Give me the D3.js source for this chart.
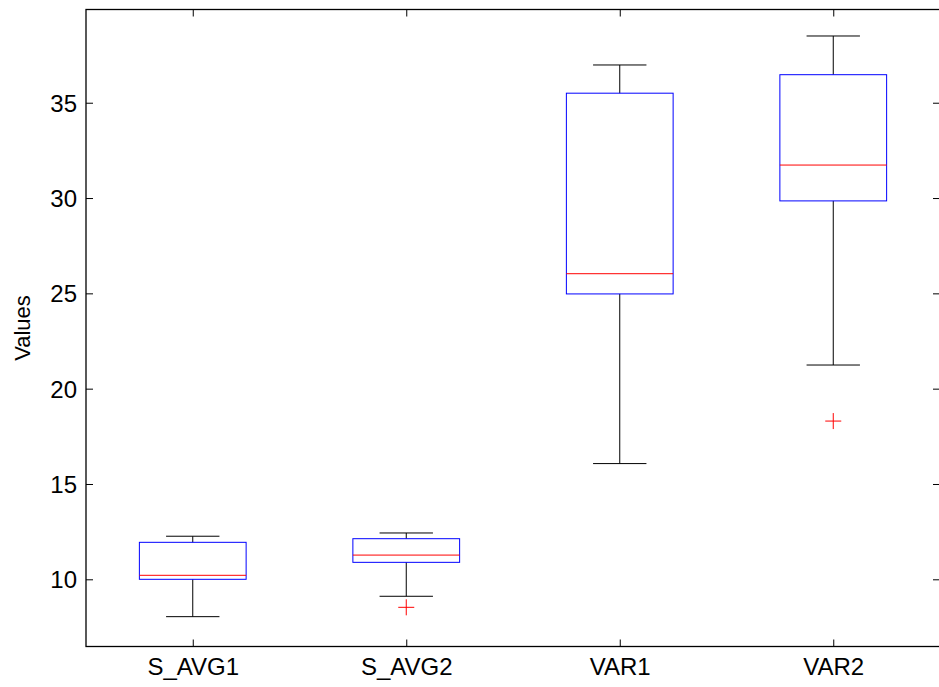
<!DOCTYPE html>
<html>
<head>
<meta charset="utf-8">
<script src="https://cdn.jsdelivr.net/npm/d3@7"></script>
<style>
  body { margin:0; background:#fff; }
  text { font-family: "Liberation Sans", Arial, sans-serif; }
</style>
</head>
<body>
<svg id="chart" width="939" height="687"></svg>
<script>
var categories = ["S_AVG1", "S_AVG2", "VAR1", "VAR2"];
// box stats: lower whisker, q1, median, q3, upper whisker
var lowWhisker = [8.04, 9.11, 16.07, 21.24];
var q1         = [10.0, 10.89, 24.97, 29.85];
var median     = [10.21, 11.27, 26.03, 31.73];
var q3         = [11.94, 12.13, 35.5, 36.47];
var highWhisker= [12.26, 12.43, 36.98, 38.5];
var outliers   = [[], [8.53], [], [18.3]];
var yTicks     = [10, 15, 20, 25, 30, 35];

var svg = d3.select("#chart");
var pLeft = 86, pRight = 940, pTop = 9.5, pBottom = 646.5;

var x = d3.scaleLinear().domain([0.5, 4.5]).range([pLeft, pRight]);
var y = d3.scaleLinear().domain([6.475, 39.89]).range([pBottom, pTop]);

var data = categories.map(function(c, i) {
    return {name:c, i:i+1, lo:lowWhisker[i], q1:q1[i], med:median[i], q3:q3[i], hi:highWhisker[i], out:outliers[i]};
});

// frame
svg.append("rect").attr("x", pLeft).attr("y", pTop)
    .attr("width", pRight-pLeft).attr("height", pBottom-pTop)
    .attr("fill", "none").attr("stroke", "#000").attr("stroke-width", 1.3);

// y ticks both sides
var yAxisL = d3.axisLeft(y).tickValues(yTicks).tickSize(-7).tickPadding(9).tickFormat(d3.format("d"));
var gl = svg.append("g").attr("transform", "translate(" + pLeft + ",0)").call(yAxisL);
gl.select(".domain").remove();
gl.selectAll("text").attr("font-size", 24).attr("fill", "#000").attr("dy", "0.35em");
gl.selectAll("line").attr("stroke", "#000");

var yAxisR = d3.axisRight(y).tickValues(yTicks).tickSize(-7).tickFormat("");
var gr = svg.append("g").attr("transform", "translate(" + pRight + ",0)").call(yAxisR);
gr.select(".domain").remove();
gr.selectAll("line").attr("stroke", "#000");

// x ticks bottom and top
var xAxisB = d3.axisBottom(x).tickValues([1,2,3,4]).tickSize(-7).tickPadding(11)
    .tickFormat(function(d) { return categories[d-1]; });
var gb = svg.append("g").attr("transform", "translate(0," + pBottom + ")").call(xAxisB);
gb.select(".domain").remove();
gb.selectAll("text").attr("font-size", 24).attr("fill", "#000").attr("dy", "0.71em");
gb.selectAll("line").attr("stroke", "#000");

var xAxisT = d3.axisTop(x).tickValues([1,2,3,4]).tickSize(-7).tickFormat("");
var gt = svg.append("g").attr("transform", "translate(0," + pTop + ")").call(xAxisT);
gt.select(".domain").remove();
gt.selectAll("line").attr("stroke", "#000");

// y label
svg.append("text")
    .attr("transform", "translate(30," + ((pTop+pBottom)/2) + ") rotate(-90)")
    .attr("text-anchor", "middle")
    .attr("font-size", 22)
    .text("Values");

var bw = 0.25, cw = 0.125;
var box = svg.selectAll(".box").data(data).enter().append("g").attr("class", "box");

box.append("line").attr("x1", function(d){return x(d.i);}).attr("x2", function(d){return x(d.i);})
    .attr("y1", function(d){return y(d.q3);}).attr("y2", function(d){return y(d.hi);})
    .attr("stroke", "#000");
box.append("line").attr("x1", function(d){return x(d.i);}).attr("x2", function(d){return x(d.i);})
    .attr("y1", function(d){return y(d.q1);}).attr("y2", function(d){return y(d.lo);})
    .attr("stroke", "#000");
box.append("line").attr("x1", function(d){return x(d.i-cw);}).attr("x2", function(d){return x(d.i+cw);})
    .attr("y1", function(d){return y(d.hi);}).attr("y2", function(d){return y(d.hi);})
    .attr("stroke", "#000");
box.append("line").attr("x1", function(d){return x(d.i-cw);}).attr("x2", function(d){return x(d.i+cw);})
    .attr("y1", function(d){return y(d.lo);}).attr("y2", function(d){return y(d.lo);})
    .attr("stroke", "#000");
box.append("rect")
    .attr("x", function(d){return x(d.i-bw);})
    .attr("y", function(d){return y(d.q3);})
    .attr("width", function(d){return x(d.i+bw)-x(d.i-bw);})
    .attr("height", function(d){return y(d.q1)-y(d.q3);})
    .attr("fill", "none").attr("stroke", "#0000ff");
box.append("line").attr("x1", function(d){return x(d.i-bw);}).attr("x2", function(d){return x(d.i+bw);})
    .attr("y1", function(d){return y(d.med);}).attr("y2", function(d){return y(d.med);})
    .attr("stroke", "#ff0000");

box.each(function(d) {
    var g = d3.select(this);
    d.out.forEach(function(v) {
        var cx = x(d.i), cy = y(v);
        g.append("path").attr("d", "M" + (cx-8) + "," + cy + "H" + (cx+8) + "M" + cx + "," + (cy-8) + "V" + (cy+8))
            .attr("stroke", "#ff0000").attr("fill", "none");
    });
});
</script>
</body>
</html>
